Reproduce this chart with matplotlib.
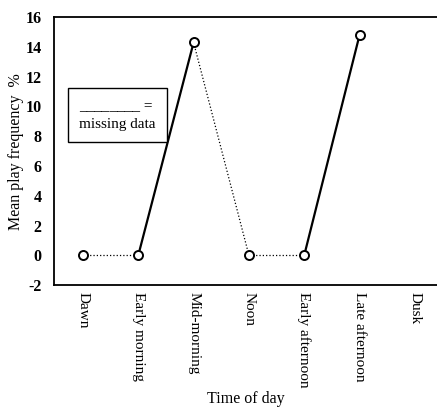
import numpy as np
import matplotlib.pyplot as plt

# datos
periods = ['Dawn', 'Early morning', 'Mid-morning', 'Noon',
           'Early afternoon', 'Late afternoon', 'Dusk']
play = [0, 0, 14.3, 0, 0, 14.8, np.nan]
# tramo i -> i+1 con datos faltantes (linea continua)
missing = [False, True, False, False, True]

plt.rcParams['font.family'] = 'Liberation Serif'
plt.rcParams['font.size'] = 11.5
plt.rcParams['axes.unicode_minus'] = False

fig = plt.figure(figsize=(4.37, 4.09), dpi=100)
ax = fig.add_axes([0.124, 0.303, 0.876, 0.655])

x = np.arange(len(periods))
for i, m in enumerate(missing):
    ax.plot(x[i:i+2], play[i:i+2], color='black',
            linestyle='-' if m else ':',
            linewidth=1.6 if m else 0.9, zorder=2)
ax.plot(x, play, linestyle='none', marker='o', markersize=6.5,
        markerfacecolor='white', markeredgecolor='black',
        markeredgewidth=1.4, zorder=3)

ax.set_xlim(-0.52, 6.4)
ax.set_ylim(-2, 16)
ax.set_yticks(np.arange(-2, 17, 2))
ax.set_xticks(x)
ax.set_xticklabels(periods, rotation=270, va='top', ha='center', fontsize=11)
ax.tick_params(length=0)
ax.tick_params(axis='y', pad=9)
ax.tick_params(axis='x', pad=5)
for lab in ax.get_yticklabels():
    lab.set_fontweight('bold')
ax.spines['right'].set_visible(False)
for s in ['left', 'top', 'bottom']:
    ax.spines[s].set_linewidth(1.3)

ax.set_ylabel('Mean play frequency  %', fontsize=11.5)
ax.yaxis.set_label_coords(-0.078, 0.5)
ax.set_xlabel('Time of day', fontsize=11.5)
ax.xaxis.set_label_coords(0.5, -0.395)

# recuadro de leyenda
ax.text(0.065, 0.635, '________ =\nmissing data', transform=ax.transAxes,
        fontsize=11, va='center', ha='left', linespacing=1.6,
        bbox=dict(boxstyle='square,pad=0.75', facecolor='white',
                  edgecolor='black', linewidth=1.0))

fig.savefig('out.png', dpi=100)
